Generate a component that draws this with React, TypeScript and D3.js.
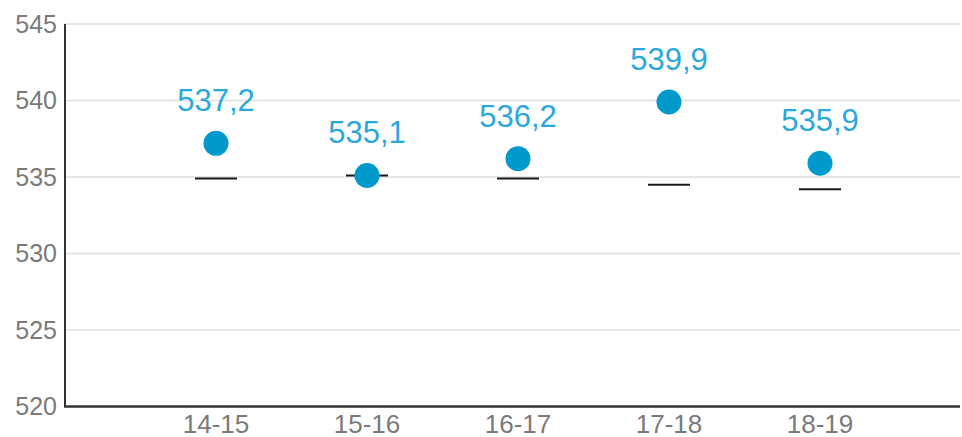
import React, { useRef, useEffect } from 'react';
import * as d3 from 'd3';

const categories = ['14-15', '15-16', '16-17', '17-18', '18-19'];
const scores = [537.2, 535.1, 536.2, 539.9, 535.9];
const references = [534.9, 535.1, 534.9, 534.5, 534.2];
const yTicks = [520, 525, 530, 535, 540, 545];

const W = 962;
const H = 437;
const margin = { top: 24, right: 2, bottom: 30, left: 65 };

export default function App() {
  const svgRef = useRef<SVGSVGElement>(null);

  useEffect(() => {
    if (!svgRef.current) return;
    const svg = d3.select(svgRef.current);
    svg.selectAll('*').remove();

    const x = d3.scalePoint<string>()
      .domain(categories)
      .range([margin.left, margin.left + 151 * 6])
      .padding(1);

    const y = d3.scaleLinear()
      .domain([520, 545])
      .range([H - margin.bottom - 0.5, margin.top]);

    const font = '"Liberation Sans", Arial, sans-serif';

    // gridlines
    svg.append('g')
      .selectAll('line')
      .data(yTicks.slice(1))
      .enter()
      .append('line')
      .attr('x1', margin.left)
      .attr('x2', W - margin.right)
      .attr('y1', d => y(d))
      .attr('y2', d => y(d))
      .style('stroke', '#e6e6e6')
      .style('stroke-width', 2);

    // y tick labels
    svg.append('g')
      .selectAll('text')
      .data(yTicks)
      .enter()
      .append('text')
      .attr('x', margin.left - 8)
      .attr('y', d => y(d))
      .attr('dy', '0.35em')
      .attr('text-anchor', 'end')
      .style('font-family', font)
      .style('font-size', '25px')
      .style('fill', '#7a7a7a')
      .text(d => d);

    // x tick labels
    svg.append('g')
      .selectAll('text')
      .data(categories)
      .enter()
      .append('text')
      .attr('x', d => x(d)!)
      .attr('y', y(520) + 26)
      .attr('text-anchor', 'middle')
      .style('font-family', font)
      .style('font-size', '26px')
      .style('fill', '#7a7a7a')
      .text(d => d);

    // axes
    svg.append('line')
      .attr('x1', margin.left)
      .attr('x2', margin.left)
      .attr('y1', margin.top)
      .attr('y2', y(520))
      .style('stroke', '#333')
      .style('stroke-width', 2);
    svg.append('line')
      .attr('x1', margin.left - 1)
      .attr('x2', W - margin.right)
      .attr('y1', y(520))
      .attr('y2', y(520))
      .style('stroke', '#333')
      .style('stroke-width', 2.5);

    // reference dashes
    svg.append('g')
      .selectAll('line')
      .data(references)
      .enter()
      .append('line')
      .attr('x1', (d, i) => x(categories[i])! - 21)
      .attr('x2', (d, i) => x(categories[i])! + 21)
      .attr('y1', d => y(d))
      .attr('y2', d => y(d))
      .style('stroke', '#1a1a1a')
      .style('stroke-width', 2);

    // points
    svg.append('g')
      .selectAll('circle')
      .data(scores)
      .enter()
      .append('circle')
      .attr('cx', (d, i) => x(categories[i])!)
      .attr('cy', d => y(d))
      .attr('r', 12.5)
      .style('fill', '#0099cc');

    // value labels
    svg.append('g')
      .selectAll('text')
      .data(scores)
      .enter()
      .append('text')
      .attr('x', (d, i) => x(categories[i])!)
      .attr('y', d => y(d) - 32)
      .attr('text-anchor', 'middle')
      .style('font-family', font)
      .style('font-size', '31px')
      .style('fill', '#2aa8dc')
      .text(d => d.toFixed(1).replace('.', ','));
  }, []);

  return (
    <svg
      ref={svgRef}
      width={W}
      height={H}
      style={{ position: 'absolute', left: 0, top: 0, display: 'block', background: '#fff' }}
    />
  );
}
